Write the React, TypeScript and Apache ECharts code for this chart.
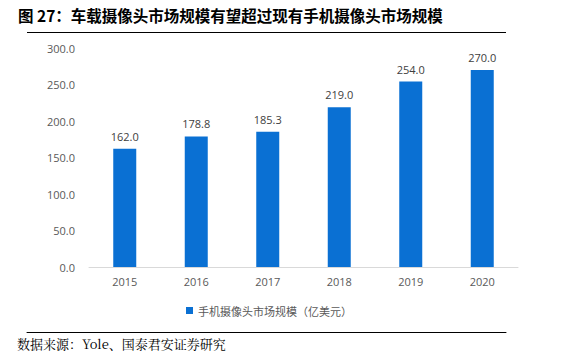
import React, { useEffect, useRef } from "react";
import * as echarts from "echarts";

const categories = ["2015", "2016", "2017", "2018", "2019", "2020"];
const values = [162.0, 178.8, 185.3, 219.0, 254.0, 270.0];
const seriesName = "手机摄像头市场规模（亿美元）";
const titleText = "图 27：车载摄像头市场规模有望超过现有手机摄像头市场规模";
const sourceText = "数据来源：Yole、国泰君安证券研究";

const ruleAxis = (gridIndex: number) => ({
  type: "value",
  gridIndex,
  min: 0,
  max: 1,
  silent: true,
  axisLine: { show: true, onZero: false, lineStyle: { color: "#000000", width: 1 } },
  axisTick: { show: false },
  axisLabel: { show: false },
  splitLine: { show: false },
});
const hiddenAxis = (gridIndex: number) => ({
  type: "value",
  gridIndex,
  show: false,
  min: 0,
  max: 1,
});

export default function App() {
  const ref = useRef<HTMLDivElement>(null);
  useEffect(() => {
    if (!ref.current) return;
    const chart = echarts.init(ref.current, null, { renderer: "svg" });
    chart.setOption({
      animation: false,
      backgroundColor: "#ffffff",
      title: {
        text: titleText,
        left: 13,
        top: 2,
        textStyle: {
          color: "#000000",
          fontSize: 15.5,
          fontWeight: "bold",
          fontFamily: "'Noto Sans CJK SC', sans-serif",
        },
      },
      graphic: [
        {
          type: "text",
          left: 17,
          top: 337,
          style: {
            text: sourceText,
            font: "13px 'Noto Serif CJK SC', 'DejaVu Serif', serif",
            fill: "#000000",
          },
        },
      ],
      legend: {
        data: [seriesName],
        top: 300,
        left: 181,
        icon: "rect",
        itemWidth: 7,
        itemHeight: 7,
        itemGap: 4,
        textStyle: {
          color: "#595959",
          fontSize: 11,
          fontFamily: "'Noto Sans CJK SC', sans-serif",
        },
      },
      grid: [
        { left: 89, right: 52, top: 48, bottom: 96 },
        { left: 27, right: 64, top: 328, height: 4 },
      ],
      xAxis: [
        {
          type: "category",
          data: categories,
          axisLine: { lineStyle: { color: "#d9d9d9" } },
          axisTick: { show: false },
          axisLabel: {
            color: "#595959",
            fontSize: 11,
            margin: 9,
            fontFamily: "'Open Sans', 'Noto Sans', sans-serif",
          },
        },
        ruleAxis(1),
      ],
      yAxis: [
        {
          type: "value",
          min: 0,
          max: 300,
          interval: 50,
          axisLine: { show: false },
          axisTick: { show: false },
          splitLine: { show: false },
          axisLabel: {
            color: "#595959",
            fontSize: 11,
            margin: 14,
            fontFamily: "'Open Sans', 'Noto Sans', sans-serif",
            formatter: (v: number) => v.toFixed(1),
          },
        },
        hiddenAxis(1),
      ],
      series: [
        {
          name: seriesName,
          type: "bar",
          data: values,
          barWidth: 23,
          itemStyle: { color: "#0A70D3" },
          label: {
            show: true,
            position: "top",
            distance: 7,
            color: "#404040",
            fontSize: 11,
            fontFamily: "'Open Sans', 'Noto Sans', sans-serif",
            formatter: (p: any) => Number(p.value).toFixed(1),
          },
          markLine: {
            silent: true,
            symbol: "none",
            label: { show: false },
            lineStyle: { color: "#000000", width: 1, type: "solid" },
            data: [[{ x: 27, y: 32.5 }, { x: 506, y: 32.5 }]],
          },
        },
      ],
    });
    return () => chart.dispose();
  }, []);
  return (
    <div
      ref={ref}
      style={{ position: "absolute", left: 0, top: 0, width: 570, height: 363 }}
    />
  );
}
